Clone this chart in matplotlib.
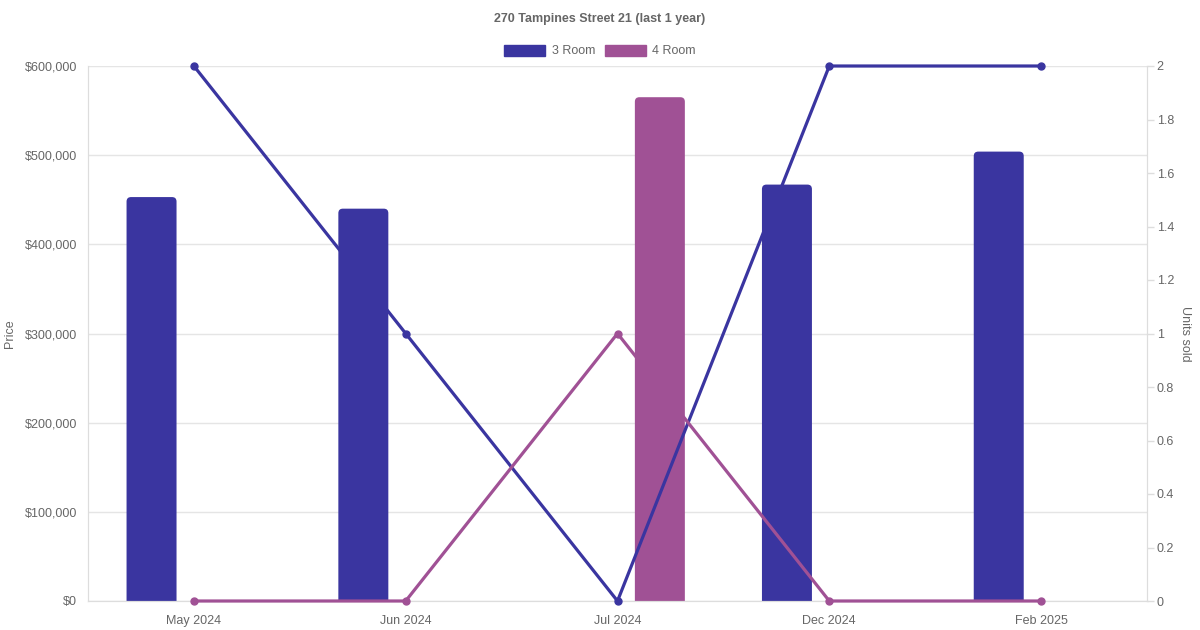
import matplotlib
matplotlib.use("Agg")
import matplotlib.pyplot as plt
from matplotlib.patches import Patch, PathPatch
from matplotlib.path import Path
import numpy as np

plt.rcParams['font.family'] = ['Liberation Sans', 'DejaVu Sans']

title = "270 Tampines Street 21 (last 1 year)"
months = ["May 2024", "Jun 2024", "Jul 2024", "Dec 2024", "Feb 2025"]
price_3room = [453000, 440000, None, 467000, 504000]
price_4room = [None, None, 565000, None, None]
units_3room = [2, 1, 0, 2, 2]
units_4room = [0, 0, 1, 0, 0]
price_ticks = [0, 100000, 200000, 300000, 400000, 500000, 600000]
unit_ticks = [0, 0.2, 0.4, 0.6, 0.8, 1.0, 1.2, 1.4, 1.6, 1.8, 2.0]

c3 = "#3a35a0"
c4 = "#a05195"
tc = "#666666"
gc = "#e5e5e5"

W, H = 1200, 630
L, R, T, B = 88, 1147, 66, 601
fig = plt.figure(figsize=(12, 6.3), dpi=100)
ax = fig.add_axes([L/W, (H-B)/H, (R-L)/W, (B-T)/H])
ax2 = ax.twinx()

ymax = 600000
ncat = len(months)
px_per_x = (R - L) / ncat
px_per_y = (B - T) / ymax
rpx = 4.5
rx = rpx / px_per_x
ry = rpx / px_per_y


def rounded_bar(axis, xc, h, w, color):
    x0, x1 = xc - w/2, xc + w/2
    verts = [(x0, 0), (x0, h - ry), (x0, h), (x0 + rx, h), (x1 - rx, h),
             (x1, h), (x1, h - ry), (x1, 0), (x0, 0)]
    codes = [Path.MOVETO, Path.LINETO, Path.CURVE3, Path.CURVE3, Path.LINETO,
             Path.CURVE3, Path.CURVE3, Path.LINETO, Path.CLOSEPOLY]
    axis.add_patch(PathPatch(Path(verts, codes), facecolor=color, edgecolor='none', zorder=2))


x = np.arange(ncat)
bw = 0.236
off = 0.2
for i in range(ncat):
    if price_3room[i] is not None:
        rounded_bar(ax, x[i] - off, price_3room[i], bw, c3)
    if price_4room[i] is not None:
        rounded_bar(ax, x[i] + off, price_4room[i], bw, c4)

ax.set_xlim(-0.5, ncat - 0.5)
ax.set_ylim(0, ymax)
ax.set_yticks(price_ticks)
ax.set_yticklabels(["${:,}".format(v) for v in price_ticks])
ax.set_xticks(x)
ax.set_xticklabels(months)
ax.grid(axis='y', color=gc, linewidth=1, zorder=0)
ax.set_axisbelow(True)
ax.tick_params(axis='y', length=0, pad=8, colors=tc, labelsize=9)
ax.tick_params(axis='x', length=0, pad=10, colors=tc, labelsize=9)
ax.spines['top'].set_visible(False)
for s in ['left', 'bottom', 'right']:
    ax.spines[s].set_color("#dddddd")
ax.set_ylabel("Price", color=tc, fontsize=9, labelpad=6)

ax2.plot(x, units_3room, color=c3, linewidth=2.3, marker='o', markersize=5, zorder=5, clip_on=False)
ax2.plot(x, units_4room, color=c4, linewidth=2.3, marker='o', markersize=5, zorder=5, clip_on=False)
ax2.set_ylim(0, 2)
ax2.set_yticks(unit_ticks)
ax2.set_yticklabels(["0", "0.2", "0.4", "0.6", "0.8", "1", "1.2", "1.4", "1.6", "1.8", "2"])
ax2.tick_params(axis='y', length=5, width=1, pad=2, colors=tc, labelsize=9)
ax2.tick_params(axis='y', color="#dddddd")
ax2.spines['top'].set_visible(False)
for s in ['left', 'bottom', 'right']:
    ax2.spines[s].set_color("#dddddd")
ax2.set_ylabel("Units sold", color=tc, fontsize=9, rotation=270, labelpad=12)

fig.text(0.5, 1 - 19/H, title, ha='center', va='center', fontsize=9, fontweight='bold', color=tc)

handles = [Patch(facecolor=c3, edgecolor=c3, label="3 Room"),
           Patch(facecolor=c4, edgecolor=c4, label="4 Room")]
fig.legend(handles=handles, loc='center', bbox_to_anchor=(0.5, 1 - 51/H), ncol=2,
           frameon=False, fontsize=9, handlelength=3.3, handleheight=1.0,
           handletextpad=0.5, columnspacing=0.8, labelcolor=tc)

fig.savefig("out.png", dpi=100, facecolor="white")
